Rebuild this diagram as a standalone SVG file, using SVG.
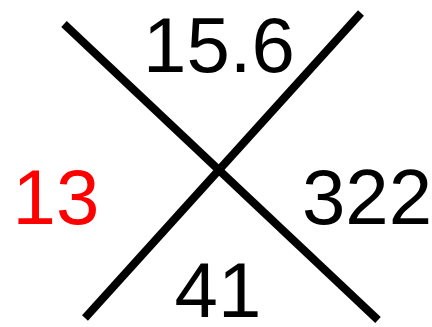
<svg xmlns="http://www.w3.org/2000/svg" width="432" height="327" viewBox="0 0 432 327">
<style>
.ln{stroke:#000;stroke-width:8;fill:none}
.t{font-family:"Liberation Sans",Arial,sans-serif;font-size:78px;text-anchor:middle;fill:#000}
</style>
<rect width="432" height="327" fill="#fff"/>
<g id="connectors">
<line class="ln" x1="64" y1="24" x2="378" y2="320"/>
<line class="ln" x1="361" y1="13" x2="85" y2="318"/>
</g>
<g id="top"><text class="t" x="219" y="72">15.6</text></g>
<g id="left"><text class="t" x="56" y="224" style="fill:#ff0000">13</text></g>
<g id="right"><text class="t" x="367" y="224">322</text></g>
<g id="bottom"><text class="t" x="218" y="317">41</text></g>
</svg>
